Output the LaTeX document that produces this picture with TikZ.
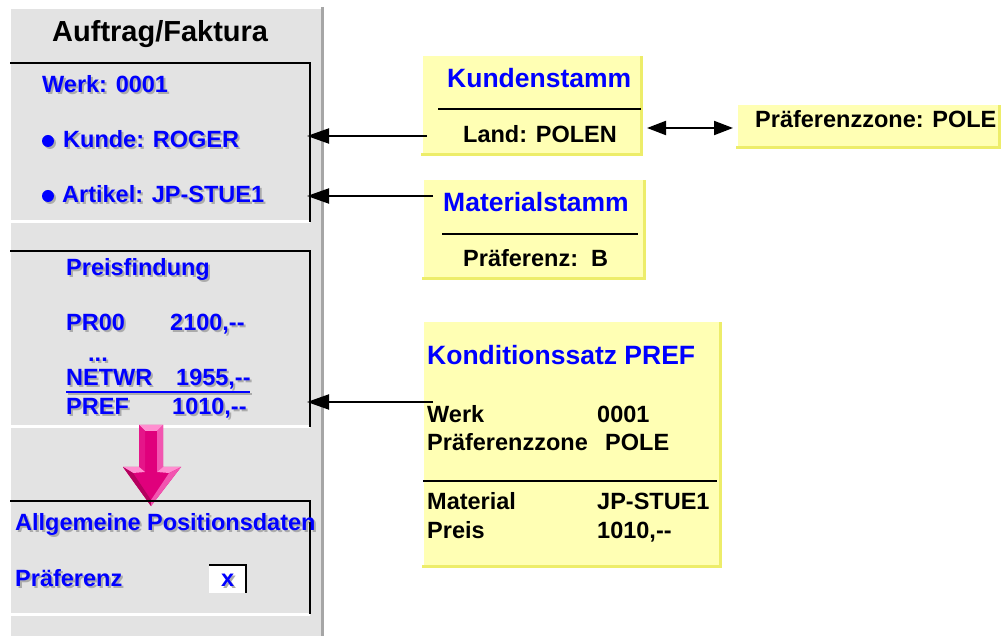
\documentclass[tikz,border=0pt]{standalone}
\usepackage{fontspec}
\setmainfont{Liberation Sans}
\usetikzlibrary{arrows.meta}
\definecolor{panelgray}{HTML}{E3E3E3}
\definecolor{edgegray}{HTML}{A6A6A6}
\definecolor{note}{HTML}{FFFFB4}
\definecolor{noteedge}{HTML}{EDED6A}
\definecolor{sapblue}{HTML}{0000FF}
\definecolor{shadowgray}{HTML}{ABABAB}
\definecolor{pinkmain}{HTML}{E0007C}
\definecolor{pinklight}{HTML}{FF8FD0}
\definecolor{pinkmid}{HTML}{F255B0}
\definecolor{pinkdark}{HTML}{B4005E}
\newcommand\fbody{\bfseries\fontsize{23.5}{28}\selectfont}
\newcommand\ftitle{\bfseries\fontsize{26.5}{31}\selectfont}
\newcommand\fhead{\bfseries\fontsize{29}{34}\selectfont}
\newcommand\dd{-{}-}
\newcommand\shtext[3]{%
  \node[lt,text=shadowgray,xshift=2pt,yshift=-2pt] (#1-s) at (#2) {#3};
  \node[lt,text=sapblue] (#1) at (#2) {#3};}
\newcommand\notebox[5]{% name, left, top, width, height
  \node[notefill,minimum width=#4pt,minimum height=#5pt] (#1) at (#2,#3) {};
  \fill[noteedge] (#1.north east) rectangle ([xshift=3pt,yshift=-3pt]#1.south east);
  \fill[noteedge] ([xshift=-2pt]#1.south west) rectangle ([xshift=3pt,yshift=-3pt]#1.south east);}
\begin{document}
\begin{tikzpicture}[x=1pt,y=-1pt,
  lt/.style={anchor=base west,inner sep=0pt,font=\fbody},
  ttl/.style={anchor=base west,inner sep=0pt,font=\ftitle,text=sapblue},
  notefill/.style={fill=note,inner sep=0pt,anchor=north west,draw=none},
  sect/.style={black,line width=2pt},
  sectlow/.style={white,line width=3pt},
  conn/.style={-{Triangle[length=22pt,width=15pt]},line width=2pt},
  dconn/.style={{Triangle[length=19pt,width=14pt]}-{Triangle[length=19pt,width=14pt]},line width=2pt}]
\useasboundingbox (0,0) rectangle (1005,636);

% ---------- left panel ----------
\fill[panelgray] (11,9) rectangle (322,636);
\draw[edgegray,line width=3pt] (322,7) -- (322,636);
\node[anchor=base west,inner sep=0pt,font=\fhead] (head) at (52,42) {Auftrag/Faktura};

% section 1
\draw[sectlow] (11,222) -- (310,222);
\draw[sect] (10,63) -- (310,63) -- (310,222);
\shtext{werk}{42,93}{Werk: 0001}
\fill[shadowgray] (50,143) circle[radius=6pt];
\fill[sapblue] (48,141) circle[radius=6pt];
\shtext{kunde}{63,148}{Kunde: ROGER}
\fill[shadowgray] (50,198) circle[radius=6pt];
\fill[sapblue] (48,196) circle[radius=6pt];
\shtext{artikel}{62,203}{Artikel: JP-STUE1}
\coordinate (tk) at (307,136);
\coordinate (ta) at (307,196);

% section 2
\draw[sectlow] (11,427) -- (310,427);
\draw[sect] (10,251) -- (310,251) -- (310,427);
\shtext{preisf}{66,276}{Preisfindung}
\shtext{pr00}{66,331}{PR00}
\shtext{pr00v}{170,331}{2100,\dd}
\shtext{dots}{88,362}{...}
\shtext{netwr}{66,386}{NETWR}
\shtext{netwrv}{176,386}{1955,\dd}
\draw[shadowgray,line width=2pt] (68,394) -- (252,394);
\draw[sapblue,line width=2pt] (66,392) -- (250,392);
\shtext{pref}{66,415}{PREF}
\shtext{prefv}{172,415}{1010,\dd}
\coordinate (tp) at (307,402);

% pink arrow
\fill[pinkmain] (139,425) -- (163,425) -- (163,467) -- (181,467) -- (151,506) -- (123,467) -- (139,467) -- cycle;
\fill[pinklight] (139,425) -- (163,425) -- (157,431) -- (145,431) -- cycle;
\fill[pinkmid] (163,425) -- (163,467) -- (157,472) -- (157,431) -- cycle;
\fill[pinkmain!85!pinklight] (139,425) -- (145,431) -- (145,472) -- (139,467) -- cycle;
\fill[pinklight] (123,467) -- (139,467) -- (145,472) -- (133,473) -- cycle;
\fill[pinklight] (181,467) -- (163,467) -- (157,472) -- (169,473) -- cycle;
\fill[pinkdark] (123,467) -- (133,473) -- (151,500) -- (151,506) -- cycle;
\fill[pinkmid] (181,467) -- (169,473) -- (151,500) -- (151,506) -- cycle;

% section 3
\draw[sectlow] (11,614) -- (310,614);
\draw[sect] (10,501) -- (310,501) -- (310,614);
\shtext{allg}{15,530}{Allgemeine Positionsdaten}
\shtext{praef}{15,586}{Präferenz}
\fill[white] (209,565) rectangle (246,593);
\draw[black,line width=2pt] (209,565) -- (246,565) -- (246,593);
\shtext{xmark}{221,586}{x}

% ---------- Kundenstamm ----------
\notebox{kund}{423}{56}{217}{97}
\node[ttl] (kundt) at (447,88) {Kundenstamm};
\draw[black,line width=2pt] (438,109) -- (641,109);
\node[lt] (land) at (463,143) {Land: POLEN};
\coordinate (fk) at (427,136);

% ---------- Materialstamm ----------
\notebox{mat}{424}{180}{219}{97}
\node[ttl] (matt) at (443,212) {Materialstamm};
\draw[black,line width=2pt] (442,234) -- (638,234);
\node[lt] (matp) at (463,267) {Präferenz:\ \ B};
\coordinate (fa) at (433,196);

% ---------- Präferenzzone ----------
\notebox{pz}{738}{105}{260}{41}
\node[lt] (pzt) at (755,128) {Präferenzzone: POLE};
\coordinate (dl) at (647,128);
\coordinate (dr) at (733,128);

% ---------- Konditionssatz ----------
\notebox{kond}{424}{322}{295}{243}
\node[ttl] (kondt) at (427,365) {Konditionssatz PREF};
\node[lt] (kw) at (427,423) {Werk};
\node[lt] (kwv) at (597,423) {0001};
\node[lt] (kp) at (427,451) {Präferenzzone};
\node[lt] (kpv) at (605,451) {POLE};
\draw[black,line width=2pt] (423,481) -- (717,481);
\node[lt] (km) at (427,510) {Material};
\node[lt] (kmv) at (597,510) {JP-STUE1};
\node[lt] (kpr) at (427,538) {Preis};
\node[lt] (kprv) at (597,538) {1010,\dd};
\coordinate (fp) at (433,402);

% ---------- connectors ----------
\draw[conn] (fk) -- (tk);
\draw[conn] (fa) -- (ta);
\draw[conn] (fp) -- (tp);
\draw[dconn] (dl) -- (dr);
\end{tikzpicture}
\end{document}
